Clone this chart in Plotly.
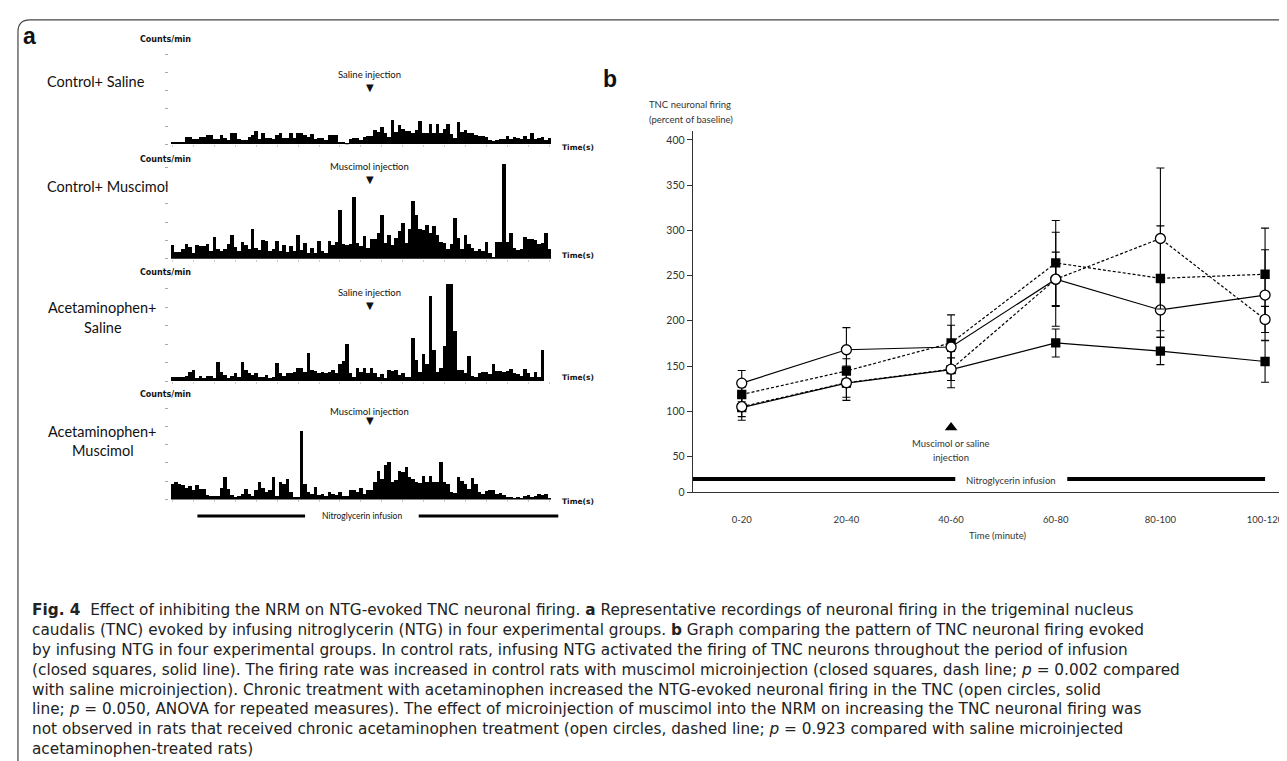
import plotly.graph_objects as go

W, H = 1287, 761

# ---------------- data: panel b ----------------
time_labels = ["0-20", "20-40", "40-60", "60-80", "80-100", "100-120"]
ctrl_saline = [104, 131, 146, 175.5, 166.5, 155]
ctrl_saline_err = [14, 19, 20, 15.5, 15, 23]
ctrl_musc = [118.5, 144.5, 175.5, 264, 247, 251.5]
ctrl_musc_err = [8, 13.5, 31, 47, 58, 51]
acet_saline = [131, 168, 171, 246, 212, 228.5]
acet_saline_err = [14, 24.5, 24, 52, 30, 50]
acet_musc = [105, 131.5, 146.5, 246, 291, 201.5]
acet_musc_err = [11, 16, 12.5, 30, 78, 14.5]
y_ticks = [0, 50, 100, 150, 200, 250, 300, 350, 400]
injection_y = 82
infusion_y = 25

# ---------------- data: panel a (counts/min per bin, tick units) ----------------
control_saline_counts = [
    0.13, 0.13, 0.13, 0.13, 0.4, 0.4, 0.28, 0.3, 0.4, 0.4,
    0.5, 0.5, 0.3, 0.3, 0.5, 0.37, 0.22, 0.6, 0.6, 0.28,
    0.22, 0.22, 0.4, 0.5, 0.72, 0.3, 0.63, 0.37, 0.37, 0.3,
    0.5, 0.65, 0.37, 0.37, 0.65, 0.37, 0.6, 0.6, 0.5, 0.4,
    0.55, 0.28, 0.37, 0.37, 0.26, 0.5, 0.5, 0.5, 0.13, 0.13,
    0.07, 0.3, 0.37, 0.37, 0.26, 0.4, 0.44, 0.44, 0.8, 0.68,
    0.93, 0.63, 0.4, 1.33, 0.68, 1.05, 0.87, 0.74, 0.74, 0.6,
    0.78, 1.3, 0.6, 0.6, 1.15, 0.6, 1.15, 0.6, 0.87, 1.15,
    0.55, 0.37, 1.24, 0.68, 0.78, 0.6, 0.6, 0.5, 0.44, 0.44,
    0.4, 0.25, 0.2, 0.25, 0.3, 0.3, 0.45, 0.3, 0.4, 0.35,
    0.3, 0.45, 0.3, 0.6, 0.3, 0.35, 0.4, 0.25, 0.35]
control_muscimol_counts = [
    0.73, 0.36, 0.36, 0.55, 0.78, 0.65, 0.33, 0.73, 0.7, 0.7,
    0.78, 0.42, 1.18, 0.5, 0.42, 0.55, 0.78, 1.3, 0.65, 0.42,
    0.9, 0.73, 0.5, 1.6, 0.6, 0.45, 1.0, 0.96, 0.42, 0.5,
    0.96, 0.42, 0.73, 0.36, 0.69, 0.42, 1.3, 0.45, 0.87, 0.33,
    0.6, 0.33, 0.96, 0.42, 0.33, 0.96, 0.73, 0.9, 2.65, 0.78,
    0.73, 0.8, 3.4, 0.84, 0.69, 1.24, 0.6, 1.05, 1.09, 1.38,
    2.4, 0.87, 1.27, 0.73, 1.15, 1.5, 1.93, 0.84, 1.64, 3.15,
    2.36, 1.6, 1.55, 1.82, 1.38, 1.78, 1.27, 0.9, 0.87, 0.5,
    0.78, 2.2, 1.15, 0.5, 1.27, 0.78, 0.6, 0.42, 0.55, 0.42,
    0.9, 0.3, 0.05, 0.9, 0.9, 5.2, 0.9, 1.4, 0.6, 0.45,
    0.5, 1.2, 1.1, 1.05, 1.0, 0.8, 0.85, 1.4, 0.55]
acet_saline_counts = [
    0.18, 0.18, 0.18, 0.18, 0.25, 0.48, 0.57, 0.12, 0.25, 0.12,
    0.25, 0.27, 0.12, 1.0, 0.48, 0.3, 0.12, 0.27, 0.4, 0.2,
    1.0, 0.57, 0.4, 0.3, 0.4, 0.2, 0.2, 0.33, 0.12, 0.2,
    0.96, 0.4, 0.25, 0.4, 0.4, 0.48, 0.7, 0.66, 0.48, 1.5,
    0.57, 0.54, 0.4, 0.48, 0.4, 0.48, 0.57, 0.43, 0.9, 1.07,
    1.96, 0.4, 0.2, 0.66, 0.48, 0.66, 0.4, 0.66, 0.4, 0.2,
    0.35, 0.12, 0.6, 0.5, 0.57, 0.3, 0.4, 0.2, 0.2, 2.3,
    1.14, 0.48, 1.43, 0.9, 4.57, 1.68, 0.48, 0.7, 1.86, 5.25,
    5.25, 2.7, 0.57, 0.6, 0.4, 1.32, 0.25, 0.2, 0.43, 0.48,
    0.48, 0.35, 0.9, 0.5, 0.55, 0.45, 0.5, 0.64, 0.4, 0.35,
    0.25, 0.65, 0.4, 0.2, 0.45, 0.2, 1.66, 0.0, 0.0]
acet_muscimol_counts = [
    0.85, 0.98, 0.85, 0.8, 0.62, 0.73, 0.5, 0.8, 0.58, 0.58,
    0.25, 0.22, 0.22, 0.22, 0.62, 1.22, 0.58, 0.25, 0.13, 0.22,
    0.3, 0.58, 0.3, 0.22, 0.5, 0.98, 0.62, 0.4, 0.5, 1.22,
    0.22, 0.98, 0.85, 1.13, 0.4, 0.13, 0.13, 3.76, 0.85, 0.44,
    0.3, 0.67, 0.25, 0.3, 0.18, 0.44, 0.3, 0.25, 0.4, 0.2,
    0.18, 0.5, 0.5, 0.4, 0.62, 0.3, 0.5, 0.5, 0.95, 1.58,
    1.13, 1.9, 2.07, 0.98, 1.09, 1.58, 1.49, 1.76, 1.22, 1.13,
    0.98, 0.91, 1.31, 0.98, 1.31, 0.98, 0.95, 2.07, 0.95, 0.85,
    0.44, 0.36, 1.22, 1.04, 0.85, 0.58, 1.16, 0.85, 0.4, 0.3,
    0.49, 0.55, 0.5, 0.3, 0.35, 0.25, 0.15, 0.15, 0.1, 0.12,
    0.1, 0.2, 0.25, 0.15, 0.2, 0.3, 0.25, 0.3, 0.1]
strip_names = ["Control+ Saline", "Control+ Muscimol",
               "Acetaminophen+<br>Saline", "Acetaminophen+<br>Muscimol"]
strip_injections = ["Saline injection", "Muscimol injection",
                    "Saline injection", "Muscimol injection"]
strip_tick_vals = [0, 1, 2, 3, 4, 5]

# ---------------- helpers (pixel -> paper) ----------------
def X(p):
    return p / W

def Y(p):
    return 1 - p / H

fig = go.Figure()
annotations = []
shapes = []

def ann(x, y, text, size, family="Lato", color="#111", xanchor="center", yanchor="middle", align="center"):
    annotations.append(dict(x=X(x), y=Y(y), xref="paper", yref="paper", text=text,
                            showarrow=False, xanchor=xanchor, yanchor=yanchor, align=align,
                            font=dict(size=size, family=family, color=color)))

# ---------------- panel a: four strips ----------------
strips = [control_saline_counts, control_muscimol_counts, acet_saline_counts, acet_muscimol_counts]
baselines = [137.3, 252.7, 376.0, 495.3]
units = [18.15, 18.4, 18.6, 18.4]
label_y = [(74,), (180,), (302, 322), (427, 446)]
cm_y = [32, 153, 267, 390]
inj_y = [67, 160, 287, 407]
tri_y = [80, 173, 300, 416]
time_y = [141, 249, 372, 497]
x_left, x_right, bin_w = 161.5, 554.0, 3.5
yrange_top = 5.4

for i, counts in enumerate(strips):
    k = i + 2
    xa, ya = f"xaxis{k}", f"yaxis{k}"
    fig.add_trace(go.Bar(x=list(range(len(counts))), y=counts, xaxis=f"x{k}", yaxis=f"y{k}",
                         marker=dict(color="black", line=dict(width=0)), showlegend=False,
                         hoverinfo="skip"))
    B = baselines[i]
    top = B - yrange_top * units[i]
    fig.layout[xa] = dict(domain=[X(x_left), X(x_right)],
                          range=[-1, -1 + (x_right - x_left) / bin_w],
                          anchor=f"y{k}", showgrid=False, zeroline=False, showline=False,
                          showticklabels=False, ticks="outside", ticklen=2, tickwidth=1,
                          tickcolor="#cccccc", tick0=0, dtick=6)
    fig.layout[ya] = dict(domain=[Y(B), Y(top)], range=[0, yrange_top], anchor=f"x{k}",
                          showgrid=False, zeroline=False, showline=False,
                          showticklabels=False, ticks="outside", ticklen=3, tickwidth=1,
                          tickcolor="#aaaaaa", tickvals=strip_tick_vals)
    # labels
    ann(158, cm_y[i], "<b>Counts/min</b>", 8, family="DejaVu Sans")
    ann(363, inj_y[i], strip_injections[i], 9.5)
    ann(363.5, tri_y[i], "▼", 10, family="DejaVu Sans")
    ann(572, time_y[i], "<b>Time(s)</b>", 7.5, family="DejaVu Sans")
    if len(label_y[i]) == 1:
        ann(37, label_y[i][0], strip_names[i], 14.5, xanchor="left")
    else:
        a, b = strip_names[i].split("<br>")
        ann(95, label_y[i][0], a, 14.5)
        ann(95, label_y[i][1], b, 14.5)

# nitroglycerin bar under panel a
shapes.append(dict(type="line", xref="paper", yref="paper", x0=X(190), x1=X(298), y0=Y(512), y1=Y(512),
                   line=dict(color="black", width=3)))
shapes.append(dict(type="line", xref="paper", yref="paper", x0=X(412), x1=X(552), y0=Y(512), y1=Y(512),
                   line=dict(color="black", width=3)))
ann(355, 512, "Nitroglycerin infusion", 8.5)

# panel letters
ann(22, 28, "<b>a</b>", 23, family="Liberation Sans")
ann(604, 72, "<b>b</b>", 23, family="Liberation Sans")

# ---------------- panel b ----------------
xi = list(range(len(time_labels)))
dash = "3px,2px"

def series(y, err, symbol, filled, dashed):
    return go.Scatter(
        x=xi, y=y, mode="lines+markers", showlegend=False, hoverinfo="skip",
        line=dict(color="black", width=1.2, dash=dash if dashed else "solid"),
        marker=dict(symbol=symbol, size=8 if symbol == "square" else 10,
                    color="black" if filled else "white",
                    line=dict(color="black", width=1.3)),
        error_y=dict(type="data", array=err, visible=True, width=4, thickness=1.1, color="black"),
    )

fig.add_trace(series(ctrl_saline, ctrl_saline_err, "square", True, False))
fig.add_trace(series(ctrl_musc, ctrl_musc_err, "square", True, True))
fig.add_trace(series(acet_saline, acet_saline_err, "circle", False, False))
fig.add_trace(series(acet_musc, acet_musc_err, "circle", False, True))

# injection marker
fig.add_trace(go.Scatter(x=[2], y=[injection_y], mode="markers", showlegend=False, hoverinfo="skip",
                         marker=dict(symbol="triangle-up", size=11, color="black")))
# infusion bars
fig.add_trace(go.Scatter(x=[-0.47, 2.04], y=[infusion_y, infusion_y], mode="lines", showlegend=False,
                         hoverinfo="skip", line=dict(color="black", width=4)))
fig.add_trace(go.Scatter(x=[3.11, 5.0], y=[infusion_y, infusion_y], mode="lines", showlegend=False,
                         hoverinfo="skip", line=dict(color="black", width=4)))

px_per_unit = (452 - 133) / 350.0
y_bottom = 50 - (488 - 452) / px_per_unit
y_top = 400 + (133 - 124) / px_per_unit
tickpos = [y_bottom] + y_ticks[1:]

fig.layout.xaxis = dict(domain=[X(687), X(1276)], range=[-0.467, 5.143], anchor="y",
                        tickvals=xi, ticktext=time_labels, ticks="", showgrid=False, zeroline=False,
                        showline=True, linecolor="#333", linewidth=1.3, ticklabeloverflow="allow",
                        ticklabelstandoff=18, tickfont=dict(size=9.5, family="Lato", color="#333"))
fig.layout.yaxis = dict(domain=[Y(488), Y(124)], range=[y_bottom, y_top], anchor="x",
                        tickvals=tickpos, ticktext=[str(v) for v in y_ticks], ticks="outside",
                        ticklen=5, tickwidth=1, tickcolor="#333", showgrid=False, zeroline=False,
                        showline=True, linecolor="#333", linewidth=1.3,
                        tickfont=dict(size=10.5, family="Lato", color="#333"))

ann(641, 97, "TNC neuronal firing", 9.5, xanchor="left", color="#333")
ann(641, 112, "(percent of baseline)", 9.5, xanchor="left", color="#333")
ann(993, 532, "Time (minute)", 9.5, color="#333")
ann(946, 439, "Muscimol or saline", 9.5, color="#333")
ann(946, 453, "injection", 9.5, color="#333")
ann(1006, 476, "Nitroglycerin infusion", 9.5, color="#333")

# ---------------- caption ----------------
caption_lines = [
    "<b>Fig. 4</b>&nbsp; Effect of inhibiting the NRM on NTG-evoked TNC neuronal firing. <b>a</b> Representative recordings of neuronal firing in the trigeminal nucleus",
    "caudalis (TNC) evoked by infusing nitroglycerin (NTG) in four experimental groups. <b>b</b> Graph comparing the pattern of TNC neuronal firing evoked",
    "by infusing NTG in four experimental groups. In control rats, infusing NTG activated the firing of TNC neurons throughout the period of infusion",
    "(closed squares, solid line). The firing rate was increased in control rats with muscimol microinjection (closed squares, dash line; <i>p</i> = 0.002 compared",
    "with saline microinjection). Chronic treatment with acetaminophen increased the NTG-evoked neuronal firing in the TNC (open circles, solid",
    "line; <i>p</i> = 0.050, ANOVA for repeated measures). The effect of microinjection of muscimol into the NRM on increasing the TNC neuronal firing was",
    "not observed in rats that received chronic acetaminophen treatment (open circles, dashed line; <i>p</i> = 0.923 compared with saline microinjected",
    "acetaminophen-treated rats)",
]
ann(22, 677, "<br>".join(caption_lines), 15.3, family="DejaVu Sans", xanchor="left",
    color="#222", align="left")

# frame
shapes.append(dict(type="path", xref="paper", yref="paper",
                   path=f"M {X(10)},{Y(761)} L {X(10)},{Y(24)} Q {X(10)},{Y(12)} {X(22)},{Y(12)} L {X(1287)},{Y(12)}",
                   line=dict(color="#444", width=1.2)))

fig.update_layout(width=W, height=H, margin=dict(l=0, r=0, t=0, b=0),
                  paper_bgcolor="white", plot_bgcolor="white", bargap=0,
                  annotations=annotations, shapes=shapes, showlegend=False)
fig.write_html("out.html")
